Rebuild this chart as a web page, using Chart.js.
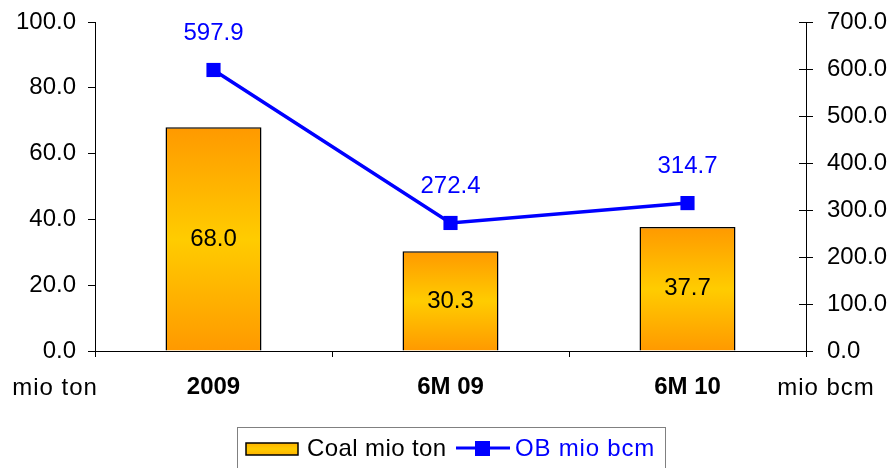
<!DOCTYPE html>
<html>
<head>
<meta charset="utf-8">
<script src="https://cdn.jsdelivr.net/npm/chart.js@4/dist/chart.umd.min.js"></script>
<style>
  html, body { margin: 0; padding: 0; background: #fff; }
  #wrap { width: 891px; height: 468px; }
</style>
</head>
<body>
<div id="wrap"><canvas id="chart" width="891" height="468"></canvas></div>
<script>
// data
const periods = ["2009", "6M 09", "6M 10"];
const coalMioTon = [68.0, 30.3, 37.7];
const obMioBcm = [597.9, 272.4, 314.7];
const leftTicks = [0, 20, 40, 60, 80, 100];
const rightTicks = [0, 100, 200, 300, 400, 500, 600, 700];

const FONT = "'Liberation Sans', Arial, sans-serif";

function barFill(context) {
    const chart = context.chart;
    if (!chart.chartArea) return "#FFCC00";
    const y = chart.scales.y;
    const top = y.getPixelForValue(coalMioTon[context.dataIndex]);
    const base = y.getPixelForValue(0);
    const g = chart.ctx.createLinearGradient(0, top, 0, base);
    g.addColorStop(0, "#FF9900");
    g.addColorStop(0.5, "#FFCC00");
    g.addColorStop(1, "#FF9900");
    return g;
}

// fixed widths, and no extra vertical room for the end labels
function fitY(width) {
    return s => {
        s.width = width;
        s.paddingTop = 0;
        s.paddingBottom = 0;
    };
}

// labels, unit texts, inner tick marks and the boxed legend
const extras = {
    id: "extras",
    afterDatasetsDraw(chart) {
        const c = chart.ctx;
        const area = chart.chartArea;
        const y1 = chart.scales.y1;
        c.save();

        // right axis ticks cross the axis line
        c.strokeStyle = "#000";
        c.lineWidth = 1;
        rightTicks.forEach(v => {
            const py = Math.round(y1.getPixelForValue(v)) + 0.5;
            c.beginPath();
            c.moveTo(area.right - 7, py);
            c.lineTo(area.right, py);
            c.stroke();
        });

        c.font = "24px " + FONT;
        c.textAlign = "center";
        c.textBaseline = "middle";

        // bar values
        chart.getDatasetMeta(0).data.forEach((b, i) => {
            c.fillStyle = "#000";
            c.fillText(coalMioTon[i].toFixed(1), b.x, (b.y + b.base) / 2);
        });

        // line values
        chart.getDatasetMeta(1).data.forEach((p, i) => {
            c.fillStyle = "#0000FF";
            c.fillText(obMioBcm[i].toFixed(1), p.x, p.y - 37);
        });

        // unit labels
        c.letterSpacing = "1px";
        c.fillStyle = "#000";
        c.fillText("mio ton", 55, 388);
        c.fillText("mio bcm", 826, 388);

        // legend
        c.strokeStyle = "#808080";
        c.lineWidth = 1;
        c.strokeRect(237.5, 427.5, 428, 50);

        const sw = c.createLinearGradient(0, 443, 0, 455);
        sw.addColorStop(0, "#FFB300");
        sw.addColorStop(0.5, "#FFCC00");
        sw.addColorStop(1, "#FFB300");
        c.fillStyle = sw;
        c.fillRect(246, 443, 52, 12);
        c.strokeStyle = "#000";
        c.lineWidth = 1.5;
        c.strokeRect(246, 443, 52, 12);

        c.letterSpacing = "0.4px";
        c.textAlign = "left";
        c.fillStyle = "#000";
        c.fillText(chart.data.datasets[0].label, 307, 449);

        c.strokeStyle = "#0000FF";
        c.lineWidth = 3;
        c.beginPath();
        c.moveTo(456, 448);
        c.lineTo(510, 448);
        c.stroke();
        c.fillStyle = "#0000FF";
        c.fillRect(475, 441, 15, 15);
        c.letterSpacing = "0.8px";
        c.fillText(chart.data.datasets[1].label, 515, 449);

        c.restore();
    }
};

new Chart(document.getElementById("chart"), {
    type: "bar",
    data: {
        labels: periods,
        datasets: [
            {
                label: "Coal mio ton",
                data: coalMioTon,
                yAxisID: "y",
                backgroundColor: barFill,
                borderColor: "#000",
                borderWidth: 1.5,
                borderSkipped: "bottom",
                categoryPercentage: 1,
                barPercentage: 0.405,
                order: 2
            },
            {
                type: "line",
                label: "OB mio bcm",
                data: obMioBcm,
                yAxisID: "y1",
                borderColor: "#0000FF",
                backgroundColor: "#0000FF",
                borderWidth: 3.5,
                pointStyle: "rect",
                pointRadius: 10,
                pointHoverRadius: 10,
                pointBorderWidth: 0,
                tension: 0,
                order: 1
            }
        ]
    },
    options: {
        responsive: false,
        animation: false,
        events: [],
        layout: { padding: { top: 22, left: 0, right: 0, bottom: 0 } },
        plugins: {
            legend: { display: false },
            tooltip: { enabled: false }
        },
        scales: {
            x: {
                offset: true,
                afterFit: s => { s.height = 117; },
                grid: { offset: true, drawOnChartArea: false, tickLength: 6, color: "#000" },
                border: { color: "#000", width: 1 },
                ticks: {
                    color: "#000",
                    padding: 16,
                    font: { family: FONT, size: 24, weight: "bold" }
                }
            },
            y: {
                position: "left",
                min: 0,
                max: 100,
                afterFit: fitY(95),
                afterBuildTicks: s => { s.ticks = leftTicks.map(v => ({ value: v })); },
                grid: { drawOnChartArea: false, tickLength: 7, color: "#000" },
                border: { color: "#000", width: 1 },
                ticks: {
                    color: "#000",
                    padding: 12,
                    font: { family: FONT, size: 24 },
                    callback: v => v.toFixed(1)
                }
            },
            y1: {
                position: "right",
                min: 0,
                max: 700,
                afterFit: fitY(85),
                afterBuildTicks: s => { s.ticks = rightTicks.map(v => ({ value: v })); },
                grid: { drawOnChartArea: false, tickLength: 7, color: "#000" },
                border: { color: "#000", width: 1 },
                ticks: {
                    color: "#000",
                    padding: 14,
                    font: { family: FONT, size: 24 },
                    callback: v => v.toFixed(1)
                }
            }
        }
    },
    plugins: [extras]
});
</script>
</body>
</html>
